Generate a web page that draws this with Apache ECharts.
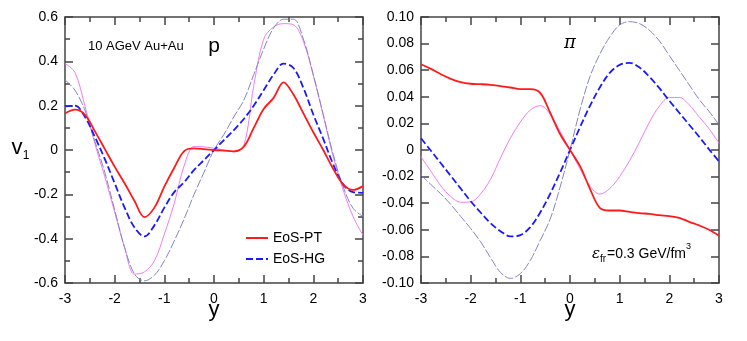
<!DOCTYPE html>
<html>
<head>
<meta charset="utf-8">
<script src="https://cdn.jsdelivr.net/npm/echarts@6/dist/echarts.min.js"></script>
<style>
html,body{margin:0;padding:0;background:#fff;}
#c{width:747px;height:341px;}
</style>
</head>
<body>
<div id="c"></div>
<script>
// rapidity grid (shared x values)
const xs = [-3,-2.8,-2.6,-2.4,-2.2,-2.0,-1.8,-1.6,-1.4,-1.2,-1.0,-0.8,-0.6,-0.4,-0.2,0,0.2,0.4,0.6,0.8,1.0,1.2,1.4,1.6,1.8,2.0,2.2,2.4,2.6,2.8,3.0];

// proton panel
const pPT  = [0.165,0.182,0.16,0.085,0.005,-0.075,-0.15,-0.23,-0.303,-0.26,-0.165,-0.08,-0.005,0.007,0.004,0.0,-0.003,-0.006,0.015,0.1,0.185,0.235,0.305,0.25,0.165,0.08,0.0,-0.085,-0.155,-0.18,-0.163];
const pHG  = [0.197,0.2,0.15,0.06,-0.04,-0.15,-0.26,-0.35,-0.39,-0.34,-0.26,-0.19,-0.145,-0.09,-0.045,0.0,0.045,0.09,0.14,0.2,0.27,0.34,0.39,0.37,0.28,0.16,0.05,-0.065,-0.155,-0.19,-0.193];
const pHGthin = [0.316,0.27,0.18,0.04,-0.1,-0.27,-0.44,-0.56,-0.59,-0.565,-0.5,-0.41,-0.31,-0.2,-0.1,0.0,0.07,0.15,0.225,0.34,0.455,0.55,0.59,0.59,0.5,0.34,0.16,-0.02,-0.165,-0.263,-0.3];
const pPTthin = [0.39,0.35,0.2,0.03,-0.12,-0.28,-0.44,-0.56,-0.55,-0.5,-0.38,-0.24,-0.07,0.016,0.014,0.008,0.0,-0.008,0.02,0.29,0.5,0.555,0.57,0.565,0.49,0.335,0.155,-0.03,-0.18,-0.3,-0.385];

// pion panel
const piPT  = [0.0645,0.061,0.057,0.0535,0.051,0.0498,0.0495,0.049,0.048,0.047,0.0458,0.0458,0.043,0.028,0.012,0.0,-0.012,-0.029,-0.0435,-0.0455,-0.0455,-0.0465,-0.0475,-0.048,-0.049,-0.0497,-0.051,-0.054,-0.0567,-0.06,-0.0645];
const piHG  = [0.0088,-0.0006,-0.01,-0.0195,-0.029,-0.0385,-0.047,-0.055,-0.061,-0.065,-0.064,-0.058,-0.047,-0.033,-0.017,0.0,0.017,0.033,0.047,0.058,0.064,0.0655,0.062,0.055,0.0465,0.037,0.028,0.019,0.01,0.0005,-0.0085];
const piHGthin = [-0.0188,-0.026,-0.033,-0.041,-0.05,-0.059,-0.069,-0.081,-0.092,-0.0965,-0.093,-0.083,-0.068,-0.052,-0.028,0.0,0.03,0.055,0.072,0.085,0.094,0.0965,0.095,0.09,0.082,0.071,0.06,0.049,0.038,0.029,0.019];
const piPTthin = [-0.005,-0.016,-0.027,-0.035,-0.0393,-0.039,-0.033,-0.022,-0.006,0.009,0.021,0.03,0.0333,0.027,0.014,0.0,-0.014,-0.027,-0.0332,-0.029,-0.02,-0.008,0.006,0.021,0.033,0.0395,0.0395,0.034,0.025,0.016,0.005];

// tick labels
const xTickLabels = ['-3','-2','-1','0','1','2','3'];
const pYTickLabels = ['-0.6','-0.4','-0.2','0','0.2','0.4','0.6'];
const piYTickLabels = ['-0.10','-0.08','-0.06','-0.04','-0.02','0','0.02','0.04','0.06','0.08','0.10'];

const FONT = '"Liberation Sans", Arial, sans-serif';
const AX = '#444';
const pairs = ys => xs.map((x, i) => [x, ys[i]]);

function xAx(g, pos) {
  return {
    gridIndex: g, type: 'value', min: -3, max: 3, interval: 1, position: pos,
    axisLine: {show: true, onZero: false, lineStyle: {color: AX, width: 1.5}},
    axisTick: {show: true, inside: true, length: 8, lineStyle: {color: AX, width: 1.5}},
    minorTick: {show: true, splitNumber: 2, length: 5, lineStyle: {color: AX, width: 1.5}},
    splitLine: {show: false},
    axisLabel: pos === 'bottom' ? {show: true, margin: 9, fontSize: 14, color: '#000', fontFamily: FONT,
      formatter: v => xTickLabels[Math.round(v + 3)]} : {show: false}
  };
}
function yAx(g, pos, isP) {
  const o = {
    gridIndex: g, type: 'value', position: pos,
    min: isP ? -0.6 : -0.1, max: isP ? 0.6 : 0.1, interval: isP ? 0.2 : 0.02,
    axisLine: {show: true, onZero: false, lineStyle: {color: AX, width: 1.5}},
    axisTick: {show: true, inside: true, length: 8, lineStyle: {color: AX, width: 1.5}},
    minorTick: {show: isP, splitNumber: 2, length: 5, lineStyle: {color: AX, width: 1.5}},
    splitLine: {show: false},
    axisLabel: {show: false}
  };
  if (pos === 'left') {
    o.axisLabel = {show: true, margin: 7, fontSize: 14, color: '#000', fontFamily: FONT,
      formatter: v => isP ? pYTickLabels[Math.round((v + 0.6) / 0.2)] : piYTickLabels[Math.round((v + 0.1) / 0.02)]};
  }
  return o;
}
function ser(name, data, xi, yi, color, width, type) {
  return {
    name: name, type: 'line', xAxisIndex: xi, yAxisIndex: yi, data: pairs(data),
    showSymbol: false, symbol: 'none', smooth: 0.35, silent: true, animation: false,
    lineStyle: {color: color, width: width, type: type}, itemStyle: {color: color}, z: width > 1.2 ? 3 : 2
  };
}

const RED = '#ff1a1a', BLUE = '#1a1aff', SLATE = '#8585c8', PINK = '#f47cf4';
const DASH = [7, 3], THIN_DASH = [9, 2];

const chart = echarts.init(document.getElementById('c'), null, {renderer: 'canvas'});
chart.setOption({
  animation: false,
  backgroundColor: '#fff',
  grid: [
    {left: 65, top: 17, width: 298, height: 266},
    {left: 421, top: 17, width: 298, height: 266}
  ],
  xAxis: [xAx(0, 'bottom'), xAx(0, 'top'), xAx(1, 'bottom'), xAx(1, 'top')],
  yAxis: [yAx(0, 'left', true), yAx(0, 'right', true), yAx(1, 'left', false), yAx(1, 'right', false)],
  legend: {
    orient: 'vertical', left: 245, top: 231, padding: 0, itemWidth: 22, itemHeight: 10, itemGap: 7,
    itemStyle: {opacity: 0},
    textStyle: {fontSize: 14, color: '#000', fontFamily: FONT}, data: ['EoS-PT', 'EoS-HG'], selectedMode: false
  },
  series: [
    ser('p-PT-thin', pPTthin, 0, 0, PINK, 1, 'solid'),
    ser('p-HG-thin', pHGthin, 0, 0, SLATE, 1, THIN_DASH),
    ser('EoS-HG', pHG, 0, 0, BLUE, 1.8, DASH),
    ser('EoS-PT', pPT, 0, 0, RED, 1.8, 'solid'),
    ser('pi-PT-thin', piPTthin, 2, 2, PINK, 1, 'solid'),
    ser('pi-HG-thin', piHGthin, 2, 2, SLATE, 1, THIN_DASH),
    ser('pi-HG', piHG, 2, 2, BLUE, 1.8, DASH),
    ser('pi-PT', piPT, 2, 2, RED, 1.8, 'solid')
  ],
  graphic: [
    {type: 'text', left: 88, top: 40, style: {text: '10 AGeV Au+Au', font: '13px ' + FONT, fill: '#000'}},
    {type: 'text', x: 214, y: 46, style: {text: 'p', font: '21px ' + FONT, fill: '#000', textAlign: 'center', textVerticalAlign: 'middle'}},
    {type: 'text', x: 570, y: 43, style: {text: 'π', font: 'italic 18px "DejaVu Serif", serif', fill: '#000', textAlign: 'center', textVerticalAlign: 'middle'}},
    {type: 'text', x: 17, y: 148, style: {text: 'v', font: '22px ' + FONT, fill: '#000', textAlign: 'center', textVerticalAlign: 'middle'}},
    {type: 'text', x: 26, y: 156, style: {text: '1', font: '12px ' + FONT, fill: '#000', textAlign: 'center', textVerticalAlign: 'middle'}},
    {type: 'text', x: 214, y: 310, style: {text: 'y', font: '22px ' + FONT, fill: '#000', textAlign: 'center', textVerticalAlign: 'middle'}},
    {type: 'text', x: 570, y: 310, style: {text: 'y', font: '22px ' + FONT, fill: '#000', textAlign: 'center', textVerticalAlign: 'middle'}},
    {type: 'text', x: 592, y: 254, style: {text: 'ε', font: 'italic 15px "DejaVu Serif", serif', fill: '#000', textVerticalAlign: 'middle'}},
    {type: 'text', x: 600, y: 259, style: {text: 'fr', font: '10px ' + FONT, fill: '#000', textVerticalAlign: 'middle'}},
    {type: 'text', x: 607, y: 254, style: {text: '=0.3 GeV/fm', font: '14px ' + FONT, fill: '#000', textVerticalAlign: 'middle'}},
    {type: 'text', x: 686, y: 247, style: {text: '3', font: '9px ' + FONT, fill: '#000', textVerticalAlign: 'middle'}}
  ]
});
</script>
</body>
</html>
